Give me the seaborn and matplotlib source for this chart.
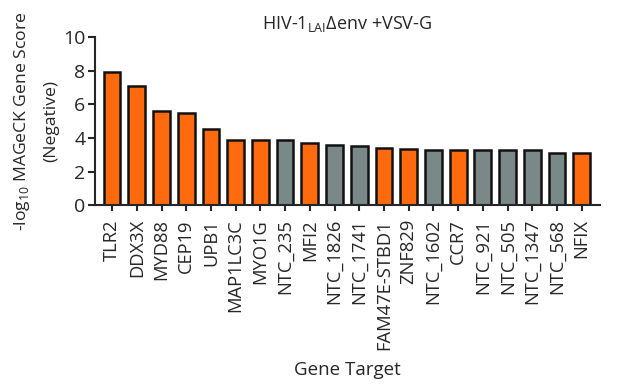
import numpy as np
import pandas as pd
import seaborn as sns
import matplotlib.pyplot as plt

# Values
genes = ['TLR2', 'DDX3X', 'MYD88', 'CEP19', 'UPB1', 'MAP1LC3C', 'MYO1G', 'NTC_235',
         'MFI2', 'NTC_1826', 'NTC_1741', 'FAM47E-STBD1', 'ZNF829', 'NTC_1602', 'CCR7',
         'NTC_921', 'NTC_505', 'NTC_1347', 'NTC_568', 'NFIX']
scores = [7.92, 7.08, 5.6, 5.48, 4.52, 3.88, 3.87, 3.86,
          3.7, 3.6, 3.54, 3.38, 3.35, 3.3, 3.27,
          3.26, 3.26, 3.26, 3.13, 3.1]
kind = ['NTC' if g.startswith('NTC') else 'gene' for g in genes]

df = pd.DataFrame({'gene': genes, 'score': scores, 'kind': kind})

sns.set_style('ticks')
plt.rcParams['font.family'] = ['Open Sans', 'DejaVu Sans']
plt.rcParams['mathtext.fontset'] = 'custom'
plt.rcParams['mathtext.rm'] = 'Open Sans'

fig = plt.figure(figsize=(6.17, 3.9), dpi=100)
ax = fig.add_axes([0.154, 0.474, 0.818, 0.431])

palette = {'gene': '#FF6A0E', 'NTC': '#7B8888'}
sns.barplot(data=df, x='gene', y='score', hue='kind', palette=palette, dodge=False,
            legend=False, width=0.68, saturation=1, edgecolor='#111111', linewidth=1.8,
            ax=ax)

ax.set_ylim(0, 10)
ax.set_xlim(-0.69, 19.73)
ax.set_yticks([0, 2, 4, 6, 8, 10])
ax.tick_params(axis='y', labelsize=14, width=1.5, length=5, pad=2)
ax.tick_params(axis='x', labelsize=13.2, width=1.5, length=4, pad=6, rotation=90)
for s in ['top', 'right']:
    ax.spines[s].set_visible(False)
for s in ['left', 'bottom']:
    ax.spines[s].set_linewidth(1.5)

ax.set_xlabel('Gene Target', fontsize=13.5, labelpad=8)
ax.set_ylabel('-log$_{10}$ MAGeCK Gene Score\n(Negative)', fontsize=12.6,
              linespacing=1.9, labelpad=3)
ax.set_title('HIV-1$_{\\mathrm{LAI}}$\u0394env +VSV-G', fontsize=13, pad=6)

fig.savefig('out.png', dpi=100)
